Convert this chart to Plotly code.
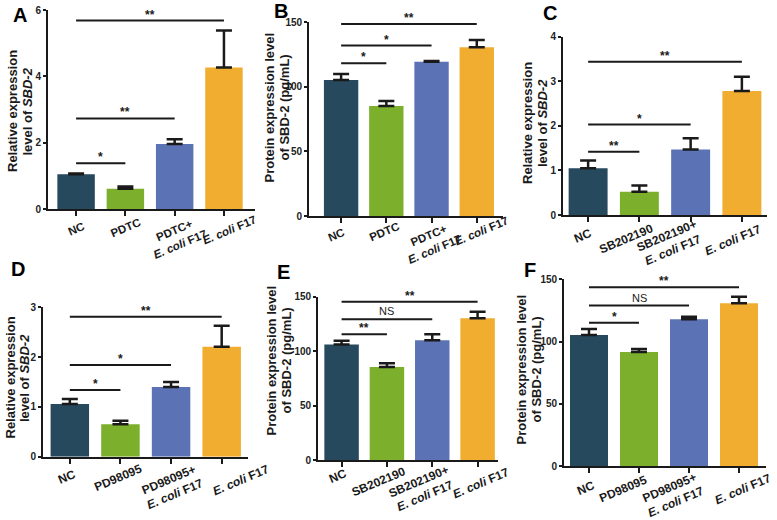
import plotly.graph_objects as go

# ---------------- data ----------------
ECOLI = "<i>E. coli</i> F17"
cats_A = ["NC", "PDTC", "PDTC+<br>" + ECOLI, ECOLI]
vals_A = [1.05, 0.61, 1.96, 4.27]
err_A = [0.02, 0.07, 0.14, 1.11]
sig_A_to = [1, 2, 3]
sig_A_y = [1.38, 2.73, 5.68]
sig_A_txt = ["*", "**", "**"]

cats_B = ["NC", "PDTC", "PDTC+<br>" + ECOLI, ECOLI]
vals_B = [105.3, 85.2, 119.5, 130.6]
err_B = [4.7, 3.8, 0.6, 5.7]
sig_B_to = [1, 2, 3]
sig_B_y = [118.3, 132.0, 148.7]
sig_B_txt = ["*", "*", "**"]

cats_C = ["NC", "SB202190", "SB202190+<br>" + ECOLI, ECOLI]
vals_C = [1.05, 0.52, 1.47, 2.78]
err_C = [0.17, 0.14, 0.25, 0.32]
sig_C_to = [1, 2, 3]
sig_C_y = [1.42, 2.03, 3.44]
sig_C_txt = ["**", "*", "**"]

cats_D = ["NC", "PD98095", "PD98095+<br>" + ECOLI, ECOLI]
vals_D = [1.06, 0.65, 1.40, 2.21]
err_D = [0.10, 0.07, 0.10, 0.42]
sig_D_to = [1, 2, 3]
sig_D_y = [1.34, 1.84, 2.81]
sig_D_txt = ["*", "*", "**"]

cats_E = ["NC", "SB202190", "SB202190+<br>" + ECOLI, ECOLI]
vals_E = [106.2, 85.4, 109.9, 130.1]
err_E = [3.4, 3.4, 5.5, 6.1]
sig_E_to = [1, 2, 3]
sig_E_y = [115.4, 129.2, 145.4]
sig_E_txt = ["**", "NS", "**"]

cats_F = ["NC", "PD98095", "PD98095+<br>" + ECOLI, ECOLI]
vals_F = [105.3, 91.7, 117.9, 130.7]
err_F = [4.9, 2.4, 2.1, 5.4]
sig_F_to = [1, 2, 3]
sig_F_y = [115.2, 128.9, 143.6]
sig_F_txt = ["*", "NS", "**"]

yt_rel = ["Relative expression", "level of <i>SBD-2</i>"]
yt_pro = ["Protein expression level", "of SBD-2 (pg/mL)"]

ticks_A = [0, 2, 4, 6]
ticks_B = [0, 50, 100, 150]
ticks_C = [0, 1, 2, 3, 4]
ticks_D = [0, 1, 2, 3]
ticks_E = [0, 50, 100, 150]
ticks_F = [0, 50, 100, 150]

# ---------------- layout / style ----------------
W, H = 777, 520
COLORS = ["#27495d", "#7caf2c", "#5b72b5", "#f0ad2f"]
INK = "#1a1a1a"
FONT = "Liberation Sans, Arial, sans-serif"

panels = [
    dict(letter="A", cats=cats_A, vals=vals_A, err=err_A, to=sig_A_to, sy=sig_A_y, st=sig_A_txt,
         ticks=ticks_A, ytitle=yt_rel, lfs=11.5,
         px=(48, 255), xr=(-0.57, 3.63), py=(10, 209),
         lab=[(76, 229), (125, 228), (177, 238), (229, 230)],
         tx=(12.5, 27), ty=111.5, lpos=(20, 15)),
    dict(letter="B", cats=cats_B, vals=vals_B, err=err_B, to=sig_B_to, sy=sig_B_y, st=sig_B_txt,
         ticks=ticks_B, ytitle=yt_pro, lfs=11.5,
         px=(309, 503), xr=(-0.71, 3.58), py=(22.3, 216),
         lab=[(336, 235), (384, 232.5), (431, 242), (481, 231)],
         tx=(268.5, 283.5), ty=108, lpos=(281, 11)),
    dict(letter="C", cats=cats_C, vals=vals_C, err=err_C, to=sig_C_to, sy=sig_C_y, st=sig_C_txt,
         ticks=ticks_C, ytitle=yt_rel, lfs=12,
         px=(563, 767), xr=(-0.49, 3.49), py=(36.7, 215),
         lab=[(582.5, 236), (626, 239.5), (670, 243), (733, 240)],
         tx=(527.5, 542.5), ty=123.5, lpos=(550, 12.5)),
    dict(letter="D", cats=cats_D, vals=vals_D, err=err_D, to=sig_D_to, sy=sig_D_y, st=sig_D_txt,
         ticks=ticks_D, ytitle=yt_rel, lfs=12,
         px=(43, 248), xr=(-0.53, 3.52), py=(307.3, 456.7),
         lab=[(66.7, 477), (117.5, 478), (172, 486.5), (241, 480)],
         tx=(10, 24.5), ty=377.5, lpos=(17.5, 269)),
    dict(letter="E", cats=cats_E, vals=vals_E, err=err_E, to=sig_E_to, sy=sig_E_y, st=sig_E_txt,
         ticks=ticks_E, ytitle=yt_pro, lfs=12,
         px=(318, 498), xr=(-0.52, 3.45), py=(296.7, 460),
         lab=[(338, 476), (378, 481.5), (421.5, 489), (481, 483)],
         tx=(271, 286), ty=360.5, lpos=(283, 271.5)),
    dict(letter="F", cats=cats_F, vals=vals_F, err=err_F, to=sig_F_to, sy=sig_F_y, st=sig_F_txt,
         ticks=ticks_F, ytitle=yt_pro, lfs=12,
         px=(564, 766), xr=(-0.5, 3.54), py=(279.3, 466.3),
         lab=[(586, 488), (623, 489), (672.5, 495), (743, 489)],
         tx=(521, 536), ty=369.5, lpos=(530, 270)),
]

fig = go.Figure()
annotations = []
shapes = []
layout = {}

for i, p in enumerate(panels):
    n = "" if i == 0 else str(i + 1)
    xa, ya = "x" + n, "y" + n
    xpos = list(range(len(p["cats"])))
    fig.add_trace(go.Bar(
        x=xpos, y=p["vals"], width=0.76, xaxis=xa, yaxis=ya,
        marker=dict(color=COLORS, line=dict(width=0)),
        error_y=dict(type="data", array=p["err"], arrayminus=[0] * len(p["err"]),
                     symmetric=False, thickness=2.5, width=8, color=INK),
        showlegend=False, hoverinfo="skip",
    ))
    ymax = p["ticks"][-1]
    layout["xaxis" + n] = dict(
        domain=[p["px"][0] / W, p["px"][1] / W], anchor=ya, range=list(p["xr"]),
        showline=True, linecolor=INK, linewidth=1.8, ticks="outside", ticklen=5,
        tickwidth=1.6, tickcolor=INK, tickvals=xpos, showticklabels=False,
        showgrid=False, zeroline=False, fixedrange=True, automargin=False,
    )
    layout["yaxis" + n] = dict(
        domain=[1 - p["py"][1] / H, 1 - p["py"][0] / H], anchor=xa, range=[0, ymax],
        showline=True, linecolor=INK, linewidth=1.8, ticks="outside", ticklen=3,
        tickwidth=1.6, tickcolor=INK, tickvals=p["ticks"],
        tickfont=dict(family=FONT, size=10, color="#222", weight="bold"),
        ticklabelstandoff=0,
        showgrid=False, zeroline=False, fixedrange=True, automargin=False,
    )
    # x tick labels (rotated)
    for k, (cx, cy) in enumerate(p["lab"]):
        annotations.append(dict(
            text=p["cats"][k], x=cx / W, y=1 - cy / H, xref="paper", yref="paper",
            xanchor="center", yanchor="middle", textangle=-23, showarrow=False,
            font=dict(family=FONT, size=p["lfs"], color=INK, weight="bold"), align="center",
        ))
    # y title, one annotation per line
    for line, lx in zip(p["ytitle"], p["tx"]):
        annotations.append(dict(
            text=line, x=lx / W, y=1 - p["ty"] / H, xref="paper", yref="paper",
            xanchor="center", yanchor="middle", textangle=-90, showarrow=False,
            font=dict(family=FONT, size=13, color=INK, weight="bold"),
        ))
    # panel letter
    annotations.append(dict(
        text=p["letter"], x=p["lpos"][0] / W, y=1 - p["lpos"][1] / H, xref="paper", yref="paper",
        xanchor="center", yanchor="middle", showarrow=False, borderpad=0,
        font=dict(family=FONT, size=20, color="#000", weight="bold"),
    ))
    # significance brackets
    for to, sy, st in zip(p["to"], p["sy"], p["st"]):
        shapes.append(dict(type="line", xref=xa, yref=ya, x0=0, x1=to, y0=sy, y1=sy,
                           line=dict(color=INK, width=2)))
        is_ns = st == "NS"
        annotations.append(dict(
            text=st, x=to / 2, y=sy, xref=xa, yref=ya, xanchor="center", yanchor="bottom",
            showarrow=False, yshift=0 if is_ns else -3,
            font=dict(family=FONT, size=11 if is_ns else 12, color=INK,
                      weight="normal" if is_ns else "bold"),
        ))

fig.update_layout(
    width=W, height=H, margin=dict(l=0, r=0, t=0, b=0),
    paper_bgcolor="white", plot_bgcolor="white",
    annotations=annotations, shapes=shapes, bargap=0.2, **layout,
)

fig.write_html(
    "out.html",
    config={"displayModeBar": False},
    post_script="document.body.style.margin='0';document.body.style.padding='0';",
)
